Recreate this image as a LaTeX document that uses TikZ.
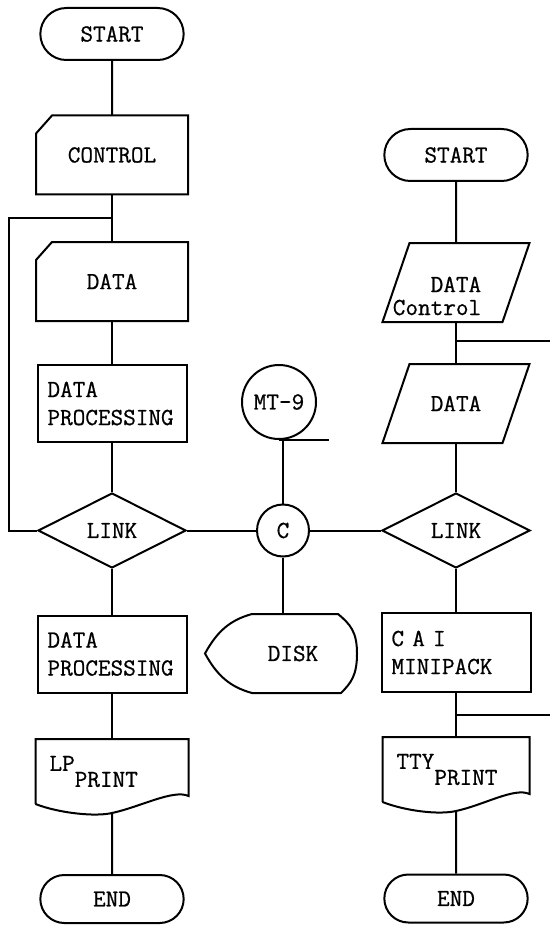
\documentclass[tikz,border=0pt]{standalone}
\usepackage{fontspec}
\newfontfamily\typer{Latin Modern Mono}[FakeBold=0.7]
\usetikzlibrary{shapes.geometric,shapes.misc,calc}

\tikzset{
  every node/.style={font=\typer\fontsize{24.5}{28}\selectfont},
  terminal/.style={rounded rectangle, draw, minimum width=150pt, minimum height=52pt},
  card/.style={minimum width=150pt, minimum height=77pt},
  process/.style={rectangle, draw, inner xsep=10pt, text width=129pt, minimum height=77pt, align=left},
  link/.style={diamond, draw, minimum width=148pt, minimum height=75pt, inner sep=0pt},
  slant/.style={minimum width=145pt, minimum height=77pt},
  printout/.style={inner xsep=13pt, text width=125pt, minimum height=63pt, align=left},
  reel/.style={circle, draw, minimum size=74pt, inner sep=0pt},
  junction/.style={circle, draw, minimum size=52pt, inner sep=0pt}
}

\begin{document}
\begin{tikzpicture}[x=1pt, y=-1pt, line width=2pt]
        \useasboundingbox (0,0) rectangle (550,925);

        % left run
        \node[terminal] (start1) at (112,34) {START};
        \node[card] (control) at (112,155) {CONTROL};
        \node[card] (data1) at (112,281.5) {DATA};
        \node[process] (proc1) at (112,403.5) {DATA\\PROCESSING};
        \node[link] (link1) at (112,530.5) {LINK};
        \node[process] (proc2) at (112,654) {DATA\\PROCESSING};
        \node[printout] (print1) at (112,771.5) {LP\raisebox{-16pt}{PRINT}};
        \node[terminal, minimum height=48pt] (end1) at (112,899) {END};

        \draw ([yshift=-18pt]control.north west) -- ([xshift=16pt]control.north west)
          -- (control.north east) -- (control.south east) -- (control.south west) -- cycle; % card
        \draw ([yshift=-18pt]data1.north west) -- ([xshift=16pt]data1.north west)
          -- (data1.north east) -- (data1.south east) -- (data1.south west) -- cycle; % card
        \draw (print1.south west) -- (print1.north west) -- (print1.north east) -- ++(0,57)
          .. controls +(-15,-7) and +(28,-6) .. ([yshift=-9pt]print1.south) coordinate (print1b)
          .. controls +(-17,4) and +(23,9) .. (print1.south west); % document

        % middle: tape, junction, disk
        \node[reel] (tape) at (279,402) {MT-9};
        \node[junction] (hub) at (283,530.5) {C};
        \node[minimum width=126pt, minimum height=77pt] (disk) at (293,653.5) {DISK};

        \draw ([xshift=23pt]disk.north west) -- ([xshift=-19pt]disk.north east)
          .. controls +(12,10) and +(0,-22) .. (disk.east)
          .. controls +(0,22) and +(10,-10) .. ([xshift=-16pt]disk.south east)
          -- ([xshift=23pt]disk.south west)
          .. controls +(-22,-6) and +(12,22) .. ([xshift=-24pt]disk.west)
          .. controls +(12,-22) and +(-22,6) .. ([xshift=23pt]disk.north west); % display

        % right run
        \node[terminal] (start2) at (456,155) {START};
        \node[slant] (dctl) at (456,282.5) {};
        \node[align=right] (dctltext) at (437,296) {DATA\\[-5pt]Control};
        \node[slant] (rdata) at (456,403.5) {DATA};
        \node[link] (link2) at (456,530.5) {LINK};
        \node[process, minimum height=79pt] (cai) at (456,652.5) {C A I\\MINIPACK};
        \node[printout, text width=119pt] (print2) at (456,769.5) {TTY\raisebox{-16pt}{PRINT}};
        \node[terminal, minimum height=48pt] (end2) at (456,898.5) {END};

        \draw ([xshift=27pt]dctl.north west) -- (dctl.north east)
          -- ([xshift=-27pt]dctl.south east) -- (dctl.south west) -- cycle; % parallelogram
        \draw ([xshift=27pt]rdata.north west) -- (rdata.north east)
          -- ([xshift=-27pt]rdata.south east) -- (rdata.south west) -- cycle; % parallelogram
        \draw (print2.south west) -- (print2.north west) -- (print2.north east) -- ++(0,57)
          .. controls +(-15,-7) and +(28,-6) .. ([yshift=-9pt]print2.south) coordinate (print2b)
          .. controls +(-17,4) and +(23,9) .. (print2.south west); % document

        % flow lines
        \draw (start1) -- (control);
        \draw (control) -- (data1);
        \draw (data1) -- (proc1);
        \draw (proc1) -- (link1);
        \draw (link1) -- (proc2);
        \draw (proc2) -- (print1);
        \draw (print1b) -- (end1);
        \coordinate (loop1) at ($(control.south)!0.5!(data1.north)$);
        \draw (link1.west) -- ++(-28,0) |- (loop1); % loop back

        \draw (link1) -- (hub);
        \draw (hub) -- (link2);
        \draw (hub) -- (hub |- tape.south);
        \draw (tape.south) -- ++(50,0); % tape end
        \draw (hub) -- (hub |- disk.north);

        \draw (start2) -- (dctl);
        \draw (dctl) -- (rdata);
        \draw (rdata) -- (link2);
        \draw (link2) -- (cai);
        \draw (cai) -- (print2);
        \draw (print2b) -- (end2);
        \coordinate (exit1) at (550,341);
        \coordinate (exit2) at (550,715);
        \draw (exit1 -| dctl.south) -- (exit1);
        \draw (exit2 -| cai.south) -- (exit2);
\end{tikzpicture}
\end{document}
